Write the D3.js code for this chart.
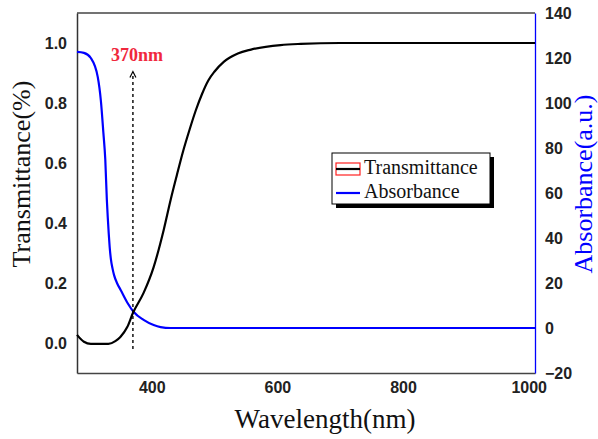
<!DOCTYPE html>
<html>
<head>
<meta charset="utf-8">
<script src="https://cdn.jsdelivr.net/npm/d3@7/dist/d3.min.js"></script>
<style>
  html, body { margin: 0; padding: 0; background: #fff; }
  svg { display: block; }
</style>
</head>
<body>
<svg id="chart" width="598" height="439"></svg>
<script>
// ---- data ----
const xTicks = [400, 600, 800, 1000];
const leftTicks = [0.0, 0.2, 0.4, 0.6, 0.8, 1.0];
const rightTicks = [-20, 0, 20, 40, 60, 80, 100, 120, 140];

const transWavelength = [281, 292, 303, 315, 331, 342, 350, 361, 370, 387, 403, 419, 430, 440, 450, 460, 470, 480, 490, 500, 515, 537, 558, 605, 637, 700, 800, 900, 1010];
const transValue      = [0.027, 0.004, -0.003, -0.003, -0.003, 0.006, 0.02, 0.053, 0.1, 0.167, 0.253, 0.377, 0.477, 0.56, 0.64, 0.71, 0.775, 0.83, 0.875, 0.905, 0.938, 0.965, 0.978, 0.993, 0.997, 1.0, 1.0, 1.0, 1.0];

const absWavelength = [281, 292, 303, 314, 319, 323, 326, 328.5, 330, 331.5, 333, 335, 337.5, 340, 345, 350.5, 361.7, 371.3, 387, 403, 414, 430, 460, 600, 800, 1010];
const absValue      = [122.7, 122.3, 120, 111.6, 101, 86.7, 75, 57, 49, 42, 36, 30.5, 26.5, 23.5, 19.8, 16.9, 11, 7.1, 3.6, 1.3, 0.4, 0, 0, 0, 0, 0];

const markerWavelength = 370;
const markerLabel = "370nm";
const seriesNames = ["Transmittance", "Absorbance"];

// ---- layout ----
const svg = d3.select("#chart");
const L = 77, R = 535, T = 13, B = 373;

const x = d3.scaleLinear().domain([281, 1010]).range([L, R]);
const yL = d3.scaleLinear().domain([-0.1, 1.1]).range([B, T]);
const yR = d3.scaleLinear().domain([-20, 140]).range([B, T]);

const tickFont = "'Liberation Sans', Arial, sans-serif";
const serif = "'Liberation Serif', 'Times New Roman', serif";

// frame top line
svg.append("line").attr("x1", L).attr("x2", R).attr("y1", T).attr("y2", T)
  .attr("stroke", "#444").attr("stroke-width", 1.5);

// bottom axis
const gx = svg.append("g").attr("transform", `translate(0,${B})`)
  .call(d3.axisBottom(x).tickValues(xTicks).tickSize(0).tickPadding(9).tickFormat(d3.format("d")));
gx.select(".domain").attr("stroke", "#444").attr("stroke-width", 1.5);
gx.selectAll("text").attr("font-family", tickFont).attr("font-weight", "bold")
  .attr("font-size", 16).attr("fill", "#222");

// left axis
const gl = svg.append("g").attr("transform", `translate(${L},0)`)
  .call(d3.axisLeft(yL).tickValues(leftTicks).tickSize(0).tickPadding(10).tickFormat(d3.format(".1f")));
gl.select(".domain").attr("stroke", "#333").attr("stroke-width", 1.5);
gl.selectAll("text").attr("font-family", tickFont).attr("font-weight", "bold")
  .attr("font-size", 16).attr("fill", "#222");

// right axis
const gr = svg.append("g").attr("transform", `translate(${R},0)`)
  .call(d3.axisRight(yR).tickValues(rightTicks).tickSize(0).tickPadding(10).tickFormat(d3.format("d")));
gr.select(".domain").attr("stroke", "#0000ff").attr("stroke-width", 1.3);
gr.selectAll("text").attr("font-family", tickFont).attr("font-weight", "bold")
  .attr("font-size", 16).attr("fill", "#222");

// lines
const transData = transWavelength.map((w, i) => [w, transValue[i]]);
const absData = absWavelength.map((w, i) => [w, absValue[i]]);

svg.append("path").datum(absData)
  .attr("fill", "none").attr("stroke", "#0000ff").attr("stroke-width", 2.2)
  .attr("d", d3.line().x(d => x(d[0])).y(d => yR(d[1])).curve(d3.curveMonotoneX));

svg.append("path").datum(transData)
  .attr("fill", "none").attr("stroke", "#000").attr("stroke-width", 2.2)
  .attr("d", d3.line().x(d => x(d[0])).y(d => yL(d[1])).curve(d3.curveMonotoneX));

// marker dashed arrow
const mx = x(markerWavelength);
svg.append("line").attr("x1", mx).attr("x2", mx).attr("y1", yL(-0.02)).attr("y2", yL(0.9))
  .attr("stroke", "#000").attr("stroke-width", 1.4).attr("stroke-dasharray", "3,3");
svg.append("path")
  .attr("d", `M${mx - 3},${yL(0.885)} L${mx},${yL(0.905)} L${mx + 3},${yL(0.885)}`)
  .attr("fill", "none").attr("stroke", "#000").attr("stroke-width", 1.2);
svg.append("text").attr("x", mx - 22).attr("y", yL(0.94))
  .attr("font-family", serif).attr("font-weight", "bold").attr("font-size", 18)
  .attr("fill", "#f0283c").text(markerLabel);

// legend
const lg = svg.append("g");
const lx = 332, ly = 153, lw = 158, lh = 51;
lg.append("rect").attr("x", lx + 4).attr("y", ly + 4).attr("width", lw).attr("height", lh).attr("fill", "#000");
lg.append("rect").attr("x", lx).attr("y", ly).attr("width", lw).attr("height", lh)
  .attr("fill", "#fff").attr("stroke", "#000").attr("stroke-width", 1);
lg.append("rect").attr("x", lx + 4).attr("y", ly + 10).attr("width", 24).attr("height", 12)
  .attr("fill", "none").attr("stroke", "#ff2020").attr("stroke-width", 1.2);
lg.append("line").attr("x1", lx + 4).attr("x2", lx + 28).attr("y1", ly + 16).attr("y2", ly + 16)
  .attr("stroke", "#000").attr("stroke-width", 2.2);
lg.append("line").attr("x1", lx + 4).attr("x2", lx + 28).attr("y1", ly + 40).attr("y2", ly + 40)
  .attr("stroke", "#0000ff").attr("stroke-width", 2.2);
lg.append("text").attr("x", lx + 32).attr("y", ly + 21)
  .attr("font-family", serif).attr("font-size", 20).attr("fill", "#111").text(seriesNames[0]);
lg.append("text").attr("x", lx + 32).attr("y", ly + 45)
  .attr("font-family", serif).attr("font-size", 20).attr("fill", "#111").text(seriesNames[1]);

// axis titles
svg.append("text").attr("x", 325).attr("y", 428).attr("text-anchor", "middle")
  .attr("font-family", serif).attr("font-size", 27).attr("fill", "#111").text("Wavelength(nm)");
svg.append("text").attr("transform", "translate(30,174) rotate(-90)").attr("text-anchor", "middle")
  .attr("font-family", serif).attr("font-size", 26).attr("fill", "#111").text("Transmittance(%)");
svg.append("text").attr("transform", "translate(592,184) rotate(-90)").attr("text-anchor", "middle")
  .attr("font-family", serif).attr("font-size", 26).attr("fill", "#0000ff").text("Absorbance(a.u.)");
</script>
</body>
</html>
